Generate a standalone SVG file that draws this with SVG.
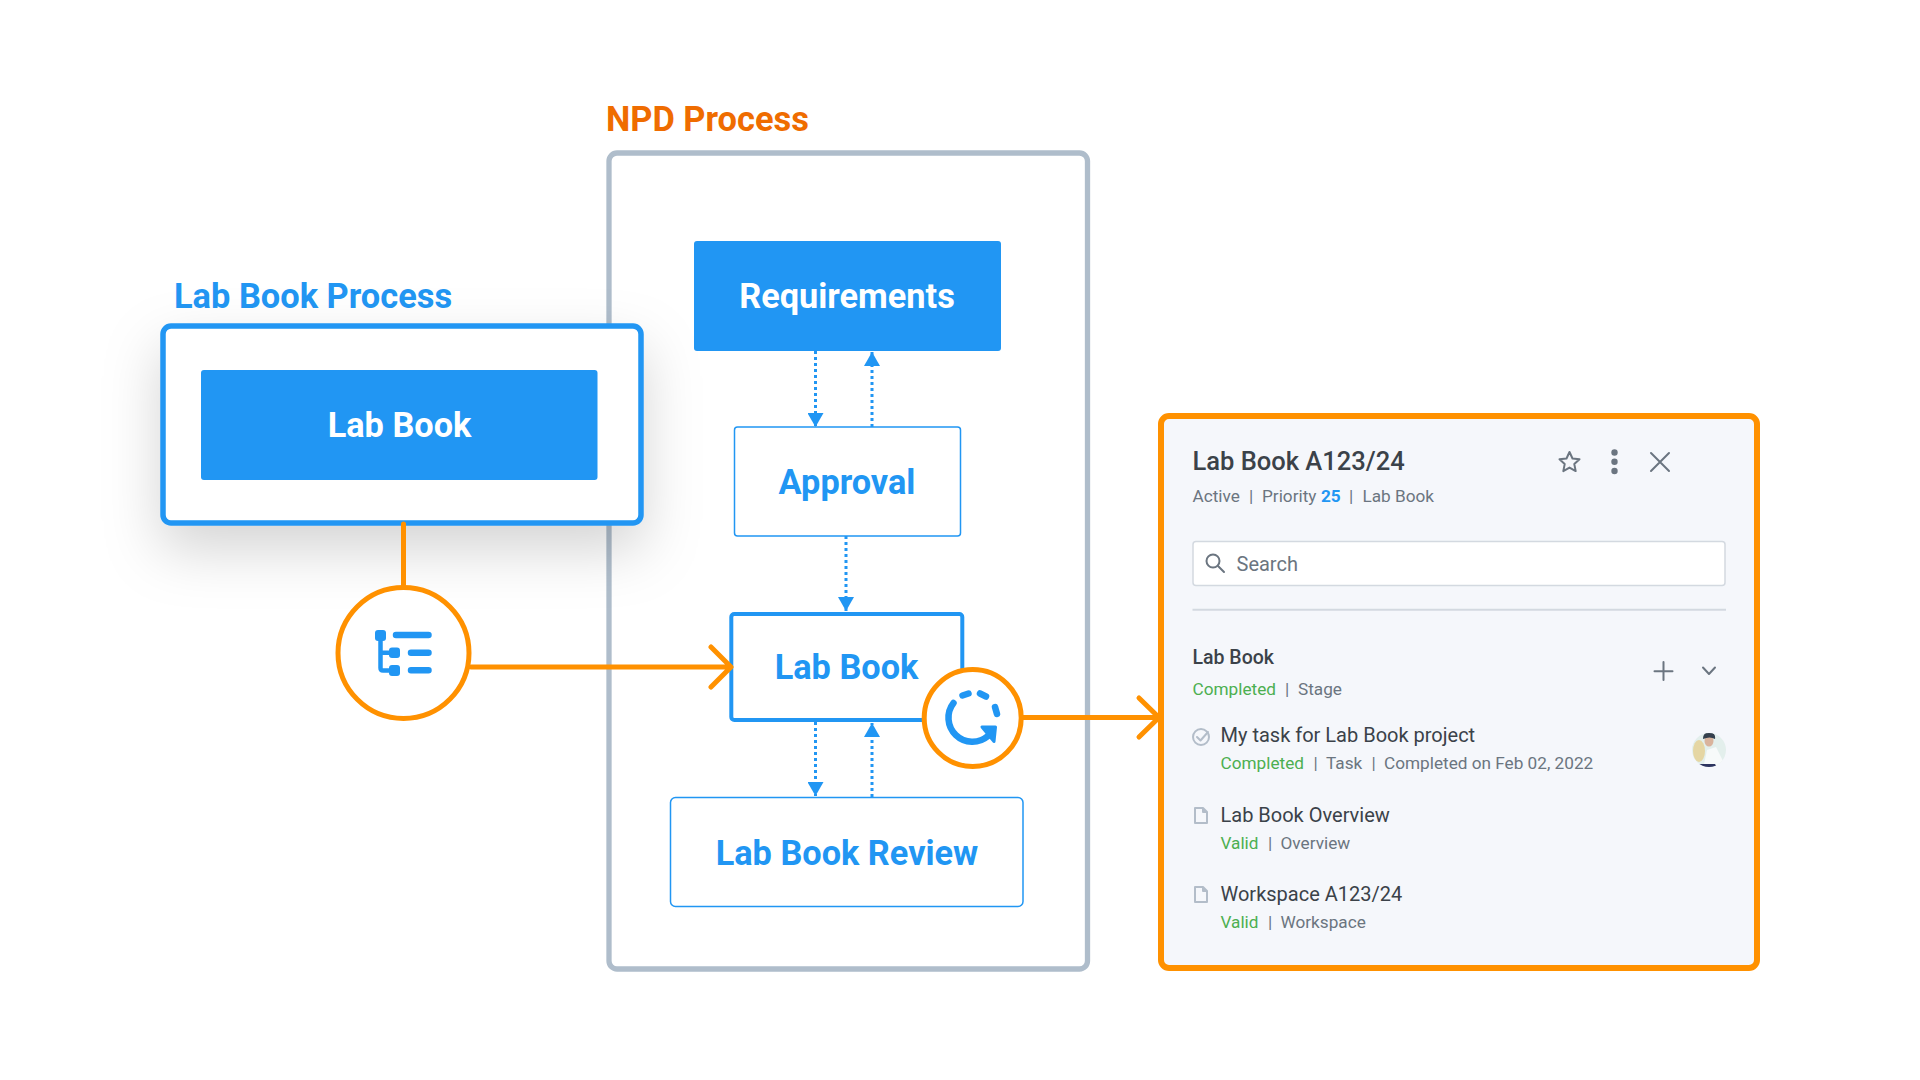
<svg xmlns="http://www.w3.org/2000/svg" width="1920" height="1080" viewBox="0 0 1920 1080">
<style>
text{font-family:Roboto,"Liberation Sans",sans-serif}
.h{font-size:34.400px;font-weight:700}
.n{font-size:34.300px;font-weight:700;text-anchor:middle}
.blue{fill:#2196f3}
.white{fill:#fff}
.sub{font-size:17.200px;fill:#6b7580}
.g{font-size:17.200px;fill:#4caf50}
.t{font-size:20px;fill:#3b4249}
.b{fill:#fff;stroke:#2196f3}
.or{fill:none;stroke:#ff9100;stroke-width:5;stroke-linecap:round;stroke-linejoin:round}
.dot{fill:none;stroke:#2196f3;stroke-width:3;stroke-dasharray:3 3}
.ic{fill:none;stroke:#6b7580;stroke-width:2;stroke-linecap:round;stroke-linejoin:round}
.li{fill:none;stroke:#b3bdc9;stroke-width:2;stroke-linejoin:round;stroke-linecap:round}
.bl{fill:none;stroke:#2196f3;stroke-width:6.500;stroke-linecap:round;stroke-linejoin:round}
</style>
<defs>
<marker id="tri" viewBox="0 0 14 16" refX="14" refY="8" markerWidth="14" markerHeight="16" markerUnits="userSpaceOnUse" orient="auto"><path d="M0 0L14 8L0 16Z" fill="#2196f3"/></marker>
<filter id="sh" x="-30%" y="-40%" width="160%" height="200%"><feDropShadow dx="0" dy="24" stdDeviation="28" flood-color="#000" flood-opacity=".17"/></filter>
<clipPath id="av"><circle cx="1709" cy="750" r="17"/></clipPath>
</defs>
<rect width="1920" height="1080" fill="#fff"/>

<g id="npd-process">
<text class="h" x="606" y="131" fill="#ef6c00">NPD Process</text>
<rect x="609" y="153" width="478.500" height="816" rx="8" fill="#fff" stroke="#afbdcb" stroke-width="5.300"/>
</g>

<g id="connectors">
<path class="dot" d="M815.500 351V427" marker-end="url(#tri)"/>
<path class="dot" d="M872 427V352" marker-end="url(#tri)"/>
<path class="dot" d="M846 536V611" marker-end="url(#tri)"/>
<path class="dot" d="M815.500 722V796" marker-end="url(#tri)"/>
<path class="dot" d="M872 797V723" marker-end="url(#tri)"/>
</g>

<g id="requirements">
<rect x="694" y="241" width="307" height="110" rx="3" fill="#2196f3"/>
<text class="n white" x="847" y="308">Requirements</text>
</g>
<g id="approval">
<rect class="b" x="734.500" y="427" width="226" height="109" rx="3" stroke-width="1.500"/>
<text class="n blue" x="847" y="494">Approval</text>
</g>
<g id="lab-book-center">
<rect class="b" x="731.300" y="614" width="231" height="106" rx="3" stroke-width="4"/>
<text class="n blue" x="846.500" y="679">Lab Book</text>
</g>
<g id="lab-book-review">
<rect class="b" x="670.500" y="797.500" width="352.500" height="109" rx="5" stroke-width="1.500"/>
<text class="n blue" x="847" y="865">Lab Book Review</text>
</g>

<g id="lab-book-process">
<text class="h blue" x="174" y="308">Lab Book Process</text>
<rect x="163" y="326" width="478" height="197" rx="8" fill="#fff" stroke="#2196f3" stroke-width="5.500" filter="url(#sh)"/>
<rect x="201" y="370" width="396.500" height="110" rx="3" fill="#2196f3"/>
<text class="n white" x="399.500" y="437">Lab Book</text>
</g>

<g id="orange-connectors">
<path class="or" d="M403.500 524V585" stroke-linecap="butt"/>
<path class="or" d="M471 667H730M711 647L731 667L711 687"/>
<path class="or" d="M1023 717.500H1158M1139 698L1159 717.500L1139 737"/>
</g>

<g id="tree-badge">
<circle cx="403.500" cy="653" r="65.500" fill="#fff" stroke="#ff9100" stroke-width="5"/>
<rect x="375" y="630" width="11" height="11" rx="3" fill="#2196f3"/>
<rect x="389" y="647.500" width="11" height="10.500" rx="3" fill="#2196f3"/>
<rect x="389" y="665" width="11" height="11" rx="3" fill="#2196f3"/>
<path d="M380.500 638V668Q380.500 670.500 383 670.500H392M380.500 652.800H392" fill="none" stroke="#2196f3" stroke-width="4.500"/>
<path class="bl" d="M396 635H428.500M411 652.800H428.500M411 670.300H428.500"/>
</g>

<g id="refresh-badge">
<circle cx="972.700" cy="718" r="48.500" fill="#fff" stroke="#ff9100" stroke-width="5"/>
<path class="bl" d="M953.500 703A24 24 0 0 0 988 736"/>
<path class="bl" d="M962.500 695.500L968.500 693.500M980 693.500L986 696.500M995 707L997 714" stroke-width="6"/>
<path d="M982 727H995.500L994 741.500Z" fill="#2196f3" stroke="#2196f3" stroke-width="3" stroke-linejoin="round"/>
</g>

<g id="detail-panel">
<rect x="1161" y="416" width="596" height="552" rx="8" fill="#f5f7fb" stroke="#ff9100" stroke-width="6"/>
<text x="1192.500" y="470" font-size="25.500" font-weight="500" fill="#3b4249">Lab Book A123/24</text>
<path class="ic" d="M1569.500 452l3 6.500 7 .8-5.200 4.800 1.400 7-6.200-3.500-6.200 3.500 1.400-7-5.200-4.800 7-.8z"/>
<g fill="#6b7580"><circle cx="1614.500" cy="452.500" r="3.200"/><circle cx="1614.500" cy="461.700" r="3.200"/><circle cx="1614.500" cy="471" r="3.200"/></g>
<path class="ic" d="M1651 453L1669 471M1669 453L1651 471"/>
<text class="sub" x="1192.500" y="502">Active</text>
<text class="sub" x="1249" y="502">|</text>
<text class="sub" x="1262" y="502">Priority</text>
<text class="blue" x="1321" y="502" font-size="17.200" font-weight="700">25</text>
<text class="sub" x="1349" y="502">|</text>
<text class="sub" x="1362.500" y="502">Lab Book</text>
<rect x="1193" y="541.500" width="532" height="44" rx="3" fill="#fff" stroke="#d3d9e0" stroke-width="1.500"/>
<circle cx="1213" cy="561" r="6.500" class="ic"/>
<path class="ic" d="M1218 566L1224 572"/>
<text x="1236.500" y="570.500" font-size="20" fill="#6b7580">Search</text>
<path d="M1192.500 609.700H1726" stroke="#d3d9e0" stroke-width="2"/>

<text x="1192.500" y="664" font-size="19.500" font-weight="500" fill="#3b4249">Lab Book</text>
<text class="g" x="1192.500" y="694.500">Completed</text>
<text class="sub" x="1285" y="694.500">|</text>
<text class="sub" x="1298" y="694.500">Stage</text>
<path class="ic" d="M1663.500 662V680M1654.500 671.200H1672.500" stroke-width="2.500"/>
<path class="ic" d="M1703 667.500L1709 674L1715 667.500" stroke-width="2.500"/>

<circle class="li" cx="1201" cy="737" r="8"/>
<path class="li" d="M1197 737L1200.500 740.500L1208 732"/>
<text class="t" x="1220.500" y="742">My task for Lab Book project</text>
<text class="g" x="1220.500" y="769">Completed</text>
<text class="sub" x="1313.500" y="769">|</text>
<text class="sub" x="1326" y="769">Task</text>
<text class="sub" x="1371.500" y="769">|</text>
<text class="sub" x="1384" y="769">Completed on Feb 02, 2022</text>
<g clip-path="url(#av)">
<rect x="1690" y="731" width="38" height="38" fill="#e3efec"/>
<ellipse cx="1699" cy="751" rx="6" ry="11" fill="#e5d6a3"/>
<path d="M1703 769L1707 750L1716 747L1727 769Z" fill="#f7fafa"/>
<ellipse cx="1709" cy="741" rx="4.500" ry="5.500" fill="#d9b39c"/>
<path d="M1703 739Q1703 732 1710 732.500Q1716 733 1715 739Q1710 736 1703 739Z" fill="#35404d"/>
<path d="M1697 764H1715L1718 769H1700Z" fill="#2d3560"/>
</g>

<path class="li" d="M1195 808H1203L1207 812V823H1195ZM1203 808V812H1207"/>
<text class="t" x="1220.500" y="822">Lab Book Overview</text>
<text class="g" x="1220.500" y="848.500">Valid</text>
<text class="sub" x="1268" y="848.500">|</text>
<text class="sub" x="1280.500" y="848.500">Overview</text>
<path class="li" d="M1195 887H1203L1207 891V902H1195ZM1203 887V891H1207"/>
<text class="t" x="1220.500" y="901">Workspace A123/24</text>
<text class="g" x="1220.500" y="927.500">Valid</text>
<text class="sub" x="1268" y="927.500">|</text>
<text class="sub" x="1280.500" y="927.500">Workspace</text>
</g>
</svg>
